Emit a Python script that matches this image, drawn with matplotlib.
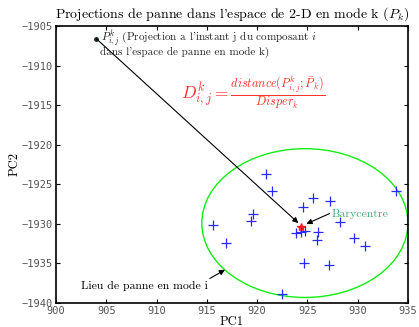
import matplotlib
matplotlib.use("Agg")
import numpy as np
import matplotlib.pyplot as plt
from matplotlib.patches import Ellipse

plt.rcParams['font.family'] = 'serif'
plt.rcParams['font.serif'] = ['cmr10', 'DejaVu Serif']
plt.rcParams['mathtext.fontset'] = 'cm'
plt.rcParams['axes.formatter.use_mathtext'] = True

# projections (PC1, PC2)
pc1 = [920.9, 921.5, 925.6, 927.2, 924.6, 919.6, 919.4, 915.6, 928.2, 933.8,
       916.9, 923.9, 924.4, 924.8, 926.1, 926.0, 929.6, 930.7, 924.7, 927.1, 922.5]
pc2 = [-1923.7, -1925.9, -1926.7, -1927.1, -1927.9, -1928.8, -1929.7, -1930.2,
       -1929.8, -1925.9, -1932.4, -1931.2, -1931.0, -1930.9, -1931.0, -1932.1,
       -1931.8, -1932.8, -1935.0, -1935.2, -1938.8]

bary = (924.4, -1930.4)
p_ij = (904.0, -1906.6)
ell_centre = (924.75, -1929.9)
ell_w, ell_h = 20.5, 18.8

xticks = [900, 905, 910, 915, 920, 925, 930, 935]
yticks = [-1940, -1935, -1930, -1925, -1920, -1915, -1910, -1905]

fig = plt.figure(figsize=(4.19, 3.27), dpi=100)
ax = fig.add_axes([0.1337, 0.0734, 0.84, 0.8471])

ax.add_patch(Ellipse(ell_centre, ell_w, ell_h, fill=False, edgecolor='#11ee11', lw=1.0))
ax.plot(pc1, pc2, '+', color='#2a2aff', ms=6.5, mew=0.9)
ax.plot(bary[0], bary[1], '*', color='red', ms=6, alpha=0.8)
ax.plot(p_ij[0], p_ij[1], 'o', color='#103020', ms=2.5)

fleche = dict(arrowstyle='-|>', color='black', lw=0.8, mutation_scale=8, shrinkA=0, shrinkB=0)
ax.annotate('', xy=(924.1, -1929.9), xytext=p_ij, arrowprops=fleche)
ax.annotate('', xy=(924.9, -1930.0), xytext=(927.2, -1928.7), arrowprops=fleche)
ax.annotate('', xy=(916.8, -1935.8), xytext=(915.3, -1936.9), arrowprops=fleche)

ax.text(927.4, -1928.7, 'Barycentre', color='#44aa77', fontsize=8.5, va='center', ha='left')
ax.text(915.1, -1937.9, 'Lieu de panne en mode i', fontsize=8.5, ha='right', va='center')

ax.text(904.5, -1906.5, r"$P^k_{i,j}$ (Projection a l'instant j du composant $i$",
        fontsize=8, va='center', color='#222222')
ax.text(904.4, -1908.3, "dans l'espace de panne en mode k)",
        fontsize=8, va='center', color='#222222')
ax.text(919.6, -1913.5,
        r"$D^k_{i,j} = \frac{distance(P^k_{i,j};\bar{P}_k)}{Disper_k}$",
        fontsize=12.5, color='#ff3333', ha='center', va='center')

ax.set_xlim(900, 935)
ax.set_ylim(-1940, -1905)
ax.set_xticks(xticks)
ax.set_yticks(yticks)
ax.set_xticklabels([str(v) for v in xticks], family='DejaVu Sans Mono', fontsize=7.5, color='#555555')
ax.set_yticklabels(['\u2212' + str(-v) for v in yticks], family='DejaVu Sans Mono', fontsize=7.5, color='#555555')
ax.tick_params(direction='in', top=True, right=True, length=3, width=0.8, pad=2)
for s in ax.spines.values():
    s.set_linewidth(1.2)

ax.set_xlabel('PC1', fontsize=9, labelpad=0)
ax.set_ylabel('PC2', fontsize=9, labelpad=1)
ax.set_title(r"Projections de panne dans l'espace de 2-D en mode k ($P_k$)", fontsize=10, pad=6)

fig.savefig('out.png', dpi=100)
